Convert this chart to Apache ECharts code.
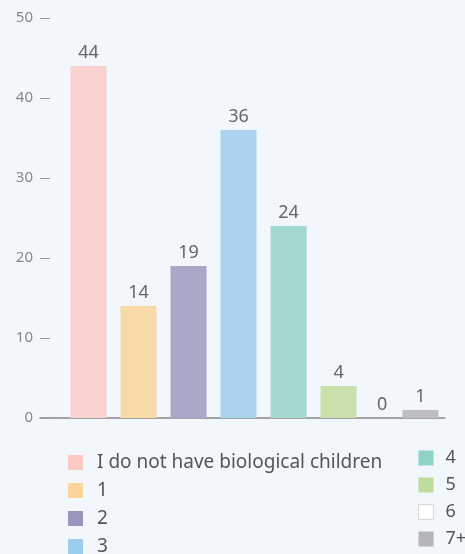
<!DOCTYPE html>
<html>
<head>
<meta charset="utf-8">
<script src="https://cdn.jsdelivr.net/npm/echarts@6/dist/echarts.min.js"></script>
<style>
  html, body { margin: 0; padding: 0; background: #f1f7fb; }
  #chart { width: 465px; height: 554px; }
</style>
</head>
<body>
<div id="chart"></div>
<script>
// 数据
var seriesNames = ['I do not have biological children', '1', '2', '3', '4', '5', '6', '7+'];
var seriesValues = [44, 14, 19, 36, 24, 4, 0, 1];
var barColors = ['#f9d1ce', '#f9d9a8', '#a9a8c8', '#abd2ee', '#a3d8cf', '#c9e0ad', '#ffffff', '#bfbfc3'];
var legendColors = ['#fcc9c5', '#fcd59a', '#9797bd', '#9bcdee', '#8fd3c5', '#bfdc9b', '#ffffff', '#b5b5b8'];
var yTicks = [0, 10, 20, 30, 40, 50];

var chart = echarts.init(document.getElementById('chart'));

var font = 'Noto Sans';

var series = seriesNames.map(function (name, i) {
  return {
    name: name,
    type: 'bar',
    xAxisIndex: 1,
    yAxisIndex: 1,
    barWidth: seriesValues[i] === 0 ? 23 : 36,
    barGap: '38.9%',
    data: [seriesValues[i]],
    itemStyle: { color: barColors[i] },
    label: {
      show: true,
      position: 'top',
      distance: 4,
      color: '#666',
      fontSize: 18,
      fontFamily: font
    }
  };
});

function legendItems(from, to) {
  return seriesNames.slice(from, to).map(function (name, k) {
    var i = from + k;
    var blank = legendColors[i] === '#ffffff';
    return {
      name: name,
      itemStyle: {
        color: legendColors[i],
        borderColor: blank ? '#d8d8d8' : legendColors[i],
        borderWidth: blank ? 1 : 0
      }
    };
  });
}

var legendBase = {
  orient: 'vertical',
  padding: 0,
  height: 140,
  itemWidth: 15,
  itemHeight: 15,
  itemGap: 9,
  icon: 'rect',
  selectedMode: false
};

chart.setOption({
  backgroundColor: '#f1f7fb',
  animation: false,
  textStyle: { fontFamily: font },
  grid: [
    { left: 40, right: 20, top: 18, bottom: 136 },
    { left: 64, right: 20, top: 18, bottom: 136 }
  ],
  legend: [
    Object.assign({}, legendBase, {
      left: 68, top: 453, data: legendItems(0, 4),
      textStyle: { color: '#555', fontSize: 19, fontFamily: font, padding: [0, 0, 0, 9] }
    }),
    Object.assign({}, legendBase, {
      left: 418, top: 449, data: legendItems(4, 8),
      textStyle: { color: '#555', fontSize: 18, fontFamily: font, padding: [0, 0, 0, 7] }
    })
  ],
  xAxis: [
    {
      type: 'category',
      gridIndex: 0,
      data: [''],
      axisLine: { show: true, lineStyle: { color: '#888', width: 1.5 } },
      axisTick: { show: false },
      axisLabel: { show: false }
    },
    {
      type: 'category',
      gridIndex: 1,
      data: [''],
      show: false
    }
  ],
  yAxis: [
    {
      type: 'value',
      gridIndex: 0,
      min: yTicks[0],
      max: yTicks[yTicks.length - 1],
      interval: 10,
      axisLine: { show: false },
      axisTick: { show: true, inside: true, length: 10, lineStyle: { color: '#999' } },
      splitLine: { show: false },
      axisLabel: { color: '#888', fontSize: 15, margin: 7, fontFamily: font }
    },
    {
      type: 'value',
      gridIndex: 1,
      min: yTicks[0],
      max: yTicks[yTicks.length - 1],
      interval: 10,
      show: false
    }
  ],
  series: series
});
</script>
</body>
</html>
